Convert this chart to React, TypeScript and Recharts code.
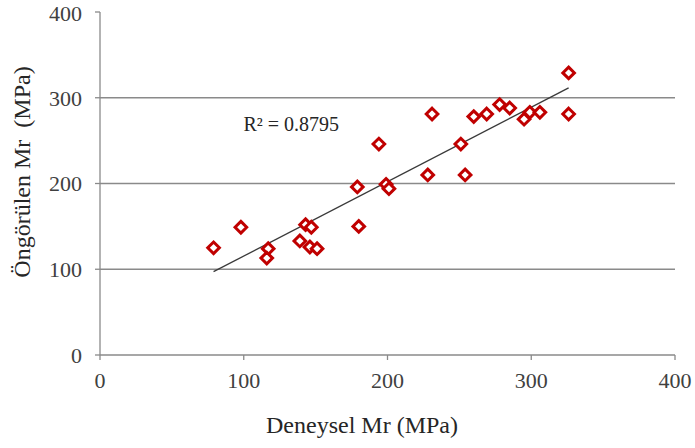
import { Label, ReferenceDot, ReferenceLine, Scatter, ScatterChart, XAxis, YAxis } from "recharts";

// Deneysel (x) vs öngörülen (y) Mr, MPa
const deneysel = [79, 98, 117, 116, 139, 143, 147, 146, 151, 179, 180, 194, 199, 201, 228, 231, 251, 254, 260, 269, 278, 285, 295, 299, 306, 326, 326];
const ongorulen = [125, 149, 124, 113, 133, 152, 149, 126, 124, 196, 150, 246, 199, 194, 210, 281, 246, 210, 278, 281, 292, 288, 275, 283, 283, 329, 281];

const xTicks = [0, 100, 200, 300, 400];
const yTicks = [0, 100, 200, 300, 400];
const gridValues = [100, 200, 300];
const r2Label = "R² = 0.8795";

const points = deneysel.map((x, i) => ({ x, y: ongorulen[i] }));

// least squares trendline
const n = points.length;
const mx = deneysel.reduce((a, b) => a + b, 0) / n;
const my = ongorulen.reduce((a, b) => a + b, 0) / n;
let sxy = 0;
let sxx = 0;
points.forEach((p) => {
  sxy += (p.x - mx) * (p.y - my);
  sxx += (p.x - mx) * (p.x - mx);
});
const slope = sxy / sxx;
const intercept = my - slope * mx;
const xMin = Math.min(...deneysel);
const xMax = Math.max(...deneysel);
const trend = [
  { x: xMin, y: intercept + slope * xMin },
  { x: xMax, y: intercept + slope * xMax },
];

const font = "Liberation Serif, Tinos, DejaVu Serif, serif";
const axisGray = "#8a8a8a";
const textGray = "#404040";

const Diamond = (props: any) => {
  const { cx, cy } = props;
  const s = 5.8;
  return (
    <polygon
      points={`${cx},${cy - s} ${cx + s},${cy} ${cx},${cy + s} ${cx - s},${cy}`}
      fill="#fff"
      stroke="#C00000"
      strokeWidth={3}
    />
  );
};

export default function App() {
  return (
    <div style={{ position: "absolute", left: 0, top: 0, background: "#fff", fontFamily: font }}>
      <ScatterChart width={695} height={448} margin={{ top: 12, right: 20, bottom: 33, left: 0 }} style={{ fontFamily: font }}>
        <XAxis
          type="number"
          dataKey="x"
          domain={[0, 400]}
          ticks={xTicks}
          tickSize={5}
          tickMargin={12}
          stroke={axisGray}
          strokeWidth={1.3}
          height={60}
          tick={{ fill: textGray, fontSize: 22, style: { fontFamily: font } }}
        >
          <Label
            content={() => (
              <text x={362} y={433} textAnchor="middle" fill="#262626" fontSize={24} style={{ fontFamily: font }}>
                Deneysel Mr (MPa)
              </text>
            )}
          />
        </XAxis>
        <YAxis
          type="number"
          dataKey="y"
          domain={[0, 400]}
          ticks={yTicks}
          tickSize={5}
          tickMargin={13}
          stroke={axisGray}
          strokeWidth={1.3}
          width={100}
          tick={{ fill: textGray, fontSize: 22, style: { fontFamily: font } }}
        >
          <Label
            content={() => (
              <text
                transform="translate(30,172) rotate(-90)"
                textAnchor="middle"
                fill="#262626"
                fontSize={24}
                style={{ fontFamily: font, whiteSpace: "pre" }}
              >
                {"Öngörülen Mr  (MPa)"}
              </text>
            )}
          />
        </YAxis>
        {gridValues.map((v) => (
          <ReferenceLine key={v} y={v} stroke={axisGray} strokeWidth={1.6} />
        ))}
        <Scatter data={points} shape={<Diamond />} isAnimationActive={false} />
        <ReferenceLine segment={trend} stroke="#3a3a3a" strokeWidth={1.3} />
        <ReferenceDot x={133} y={269} r={0} stroke="none" fill="none">
          <Label
            position="center"
            content={(p: any) => (
              <text
                x={p.viewBox.x + p.viewBox.width / 2}
                y={p.viewBox.y + p.viewBox.height / 2}
                textAnchor="middle"
                dominantBaseline="central"
                fill="#262626"
                fontSize={20}
                style={{ fontFamily: font }}
              >
                {r2Label}
              </text>
            )}
          />
        </ReferenceDot>
      </ScatterChart>
    </div>
  );
}
